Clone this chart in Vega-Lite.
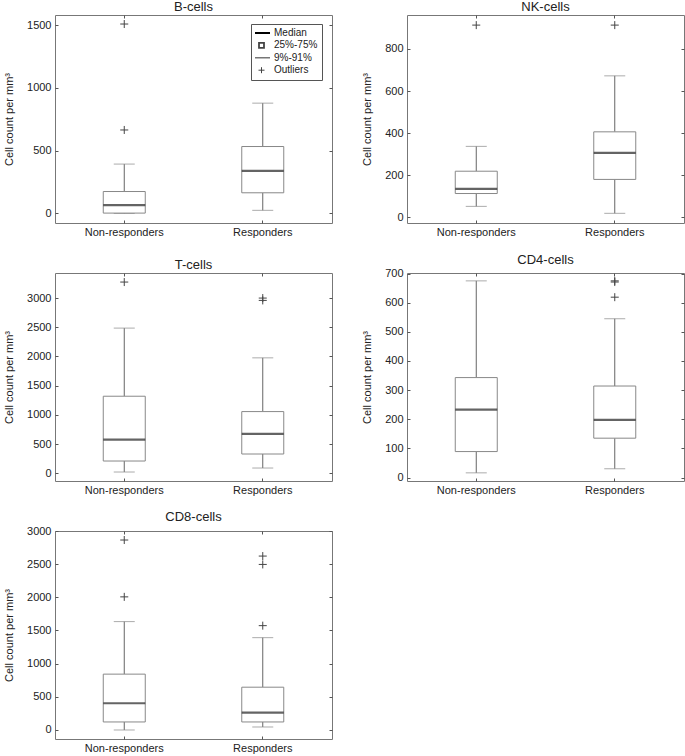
{
  "$schema": "https://vega.github.io/schema/vega-lite/v6.json",
  "padding": {"left": 3, "top": 0, "right": 0, "bottom": 0},
  "bounds": "flush",
  "columns": 2,
  "spacing": {"row": 50, "column": 75},
  "config": {
    "font": "Liberation Sans",
    "view": {"stroke": "#777", "strokeWidth": 1},
    "title": {"fontSize": 13, "fontWeight": "normal", "color": "#222", "offset": 1},
    "axis": {"labelFontSize": 11, "labelColor": "#222", "titleFontSize": 11, "titleFontWeight": "normal", "titleColor": "#222", "tickColor": "#555", "grid": false, "domain": false},
    "axisY": {"format": "d"},
    "legend": {"orient": "none", "legendX": 196, "legendY": 9, "title": null, "strokeColor": "#555", "fillColor": "white", "padding": 4, "symbolSize": 100, "clipHeight": 10, "rowPadding": 2.4, "labelOffset": 6, "labelFontSize": 10, "labelColor": "#222"}
  },
  "datasets": {
    "b_box": [
      {"group": "Non-responders", "lo": 0, "q1": 2, "med": 66, "q3": 174, "hi": 393},
      {"group": "Responders", "lo": 24, "q1": 164, "med": 338, "q3": 533, "hi": 879}
    ],
    "b_out": [
      {"group": "Non-responders", "value": 665, "legend": "Outliers"},
      {"group": "Non-responders", "value": 1510, "legend": "Outliers"}
    ],
    "nk_box": [
      {"group": "Non-responders", "lo": 52, "q1": 113, "med": 135, "q3": 219, "hi": 337},
      {"group": "Responders", "lo": 19, "q1": 180, "med": 306, "q3": 406, "hi": 672}
    ],
    "nk_out": [
      {"group": "Non-responders", "value": 913},
      {"group": "Responders", "value": 913}
    ],
    "t_box": [
      {"group": "Non-responders", "lo": 23, "q1": 211, "med": 577, "q3": 1320, "hi": 2486},
      {"group": "Responders", "lo": 91, "q1": 331, "med": 674, "q3": 1057, "hi": 1977}
    ],
    "t_out": [
      {"group": "Non-responders", "value": 3274},
      {"group": "Responders", "value": 3000},
      {"group": "Responders", "value": 2960}
    ],
    "cd4_box": [
      {"group": "Non-responders", "lo": 16, "q1": 89, "med": 233, "q3": 343, "hi": 675},
      {"group": "Responders", "lo": 30, "q1": 135, "med": 198, "q3": 314, "hi": 545}
    ],
    "cd4_out": [
      {"group": "Responders", "value": 619},
      {"group": "Responders", "value": 671},
      {"group": "Responders", "value": 675}
    ],
    "cd8_box": [
      {"group": "Non-responders", "lo": 0, "q1": 121, "med": 403, "q3": 842, "hi": 1634},
      {"group": "Responders", "lo": 45, "q1": 121, "med": 262, "q3": 645, "hi": 1392}
    ],
    "cd8_out": [
      {"group": "Non-responders", "value": 2007},
      {"group": "Non-responders", "value": 2864},
      {"group": "Responders", "value": 1573},
      {"group": "Responders", "value": 2496},
      {"group": "Responders", "value": 2622}
    ]
  },
  "concat": [
    {
      "title": "B-cells",
      "width": 277, "height": 208,
      "resolve": {"axis": {"x": "independent", "y": "independent"}},
      "layer": [
        {"data": {"name": "b_box"}, "mark": {"type": "rule", "color": "#666"},
         "encoding": {
           "x": {"field": "group", "type": "nominal", "sort": ["Non-responders", "Responders"], "scale": {"type": "band", "paddingInner": 0, "paddingOuter": 0}, "axis": {"orient": "bottom", "title": null, "labelAngle": 0, "tickSize": -3, "labelPadding": 6}},
           "y": {"field": "lo", "type": "quantitative", "scale": {"domain": [-77, 1582], "nice": false, "zero": false}, "axis": {"orient": "left", "title": "Cell count per mm³", "values": [0, 500, 1000, 1500], "tickSize": -3, "labelPadding": 7, "titlePadding": 12}},
           "y2": {"field": "q1"}}},
        {"data": {"name": "b_box"}, "mark": {"type": "rule", "color": "#666"},
         "encoding": {
           "x": {"field": "group", "type": "nominal", "axis": {"orient": "top", "title": null, "labels": false, "tickSize": -3}},
           "y": {"field": "q3", "type": "quantitative", "axis": {"orient": "right", "title": null, "labels": false, "values": [0, 500, 1000, 1500], "tickSize": -3}},
           "y2": {"field": "hi"}}},
        {"data": {"name": "b_box"}, "mark": {"type": "tick", "color": "#888", "size": 21, "thickness": 1},
         "encoding": {"x": {"field": "group", "type": "nominal", "axis": null}, "y": {"field": "lo", "type": "quantitative", "axis": null}}},
        {"data": {"name": "b_box"}, "mark": {"type": "tick", "color": "#888", "size": 21, "thickness": 1},
         "encoding": {"x": {"field": "group", "type": "nominal", "axis": null}, "y": {"field": "hi", "type": "quantitative", "axis": null}}},
        {"data": {"name": "b_box"}, "mark": {"type": "bar", "fill": "white", "stroke": "#888", "strokeWidth": 1, "size": 42},
         "encoding": {"x": {"field": "group", "type": "nominal", "axis": null}, "y": {"field": "q1", "type": "quantitative", "axis": null}, "y2": {"field": "q3"}}},
        {"data": {"name": "b_box"}, "mark": {"type": "tick", "color": "#222", "size": 42, "thickness": 2.2},
         "encoding": {"x": {"field": "group", "type": "nominal", "axis": null}, "y": {"field": "med", "type": "quantitative", "axis": null}}},
        {"data": {"name": "b_out"}, "mark": {"type": "point", "filled": false, "size": 178, "opacity": 1},
         "encoding": {
           "x": {"field": "group", "type": "nominal", "axis": null},
           "y": {"field": "value", "type": "quantitative", "axis": null},
           "shape": {"field": "legend", "type": "nominal", "scale": {"domain": ["Median", "25%-75%", "9%-91%", "Outliers"], "range": ["M-1.7,0H1.7", "M-0.5,-0.5H0.5V0.5H-0.5Z", "M-1.7,0H1.7", "M-0.6,0H0.6M0,-0.6V0.6"]},
             "legend": {"title": null}},
           "stroke": {"field": "legend", "type": "nominal", "scale": {"domain": ["Median", "25%-75%", "9%-91%", "Outliers"], "range": ["#000", "#444", "#777", "#444"]},
             "legend": {"title": null}},
           "strokeWidth": {"field": "legend", "type": "nominal", "scale": {"domain": ["Median", "25%-75%", "9%-91%", "Outliers"], "range": [2.2, 1, 1, 1]},
             "legend": {"title": null}}
         }}
      ]
    },
    {
      "title": "NK-cells",
      "width": 277, "height": 208,
      "resolve": {"axis": {"x": "independent", "y": "independent"}},
      "layer": [
        {"data": {"name": "nk_box"}, "mark": {"type": "rule", "color": "#666"},
         "encoding": {
           "x": {"field": "group", "type": "nominal", "sort": ["Non-responders", "Responders"], "scale": {"type": "band", "paddingInner": 0, "paddingOuter": 0}, "axis": {"orient": "bottom", "title": null, "labelAngle": 0, "tickSize": -3, "labelPadding": 6}},
           "y": {"field": "lo", "type": "quantitative", "scale": {"domain": [-27, 961], "nice": false, "zero": false}, "axis": {"orient": "left", "title": "Cell count per mm³", "values": [0, 200, 400, 600, 800], "tickSize": -3, "labelPadding": 7, "titlePadding": 12}},
           "y2": {"field": "q1"}}},
        {"data": {"name": "nk_box"}, "mark": {"type": "rule", "color": "#666"},
         "encoding": {
           "x": {"field": "group", "type": "nominal", "axis": {"orient": "top", "title": null, "labels": false, "tickSize": -3}},
           "y": {"field": "q3", "type": "quantitative", "axis": {"orient": "right", "title": null, "labels": false, "values": [0, 200, 400, 600, 800], "tickSize": -3}},
           "y2": {"field": "hi"}}},
        {"data": {"name": "nk_box"}, "mark": {"type": "tick", "color": "#888", "size": 21, "thickness": 1},
         "encoding": {"x": {"field": "group", "type": "nominal", "axis": null}, "y": {"field": "lo", "type": "quantitative", "axis": null}}},
        {"data": {"name": "nk_box"}, "mark": {"type": "tick", "color": "#888", "size": 21, "thickness": 1},
         "encoding": {"x": {"field": "group", "type": "nominal", "axis": null}, "y": {"field": "hi", "type": "quantitative", "axis": null}}},
        {"data": {"name": "nk_box"}, "mark": {"type": "bar", "fill": "white", "stroke": "#888", "strokeWidth": 1, "size": 42},
         "encoding": {"x": {"field": "group", "type": "nominal", "axis": null}, "y": {"field": "q1", "type": "quantitative", "axis": null}, "y2": {"field": "q3"}}},
        {"data": {"name": "nk_box"}, "mark": {"type": "tick", "color": "#222", "size": 42, "thickness": 2.2},
         "encoding": {"x": {"field": "group", "type": "nominal", "axis": null}, "y": {"field": "med", "type": "quantitative", "axis": null}}},
        {"data": {"name": "nk_out"}, "mark": {"type": "point", "filled": false, "size": 524, "shape": "M-0.35,0H0.35M0,-0.35V0.35", "stroke": "#444", "strokeWidth": 1, "opacity": 1},
         "encoding": {"x": {"field": "group", "type": "nominal", "axis": null}, "y": {"field": "value", "type": "quantitative", "axis": null}}}
      ]
    },
    {
      "title": "T-cells",
      "width": 277, "height": 208,
      "resolve": {"axis": {"x": "independent", "y": "independent"}},
      "layer": [
        {"data": {"name": "t_box"}, "mark": {"type": "rule", "color": "#666"},
         "encoding": {
           "x": {"field": "group", "type": "nominal", "sort": ["Non-responders", "Responders"], "scale": {"type": "band", "paddingInner": 0, "paddingOuter": 0}, "axis": {"orient": "bottom", "title": null, "labelAngle": 0, "tickSize": -3, "labelPadding": 6}},
           "y": {"field": "lo", "type": "quantitative", "scale": {"domain": [-131, 3429], "nice": false, "zero": false}, "axis": {"orient": "left", "title": "Cell count per mm³", "values": [0, 500, 1000, 1500, 2000, 2500, 3000], "tickSize": -3, "labelPadding": 7, "titlePadding": 12}},
           "y2": {"field": "q1"}}},
        {"data": {"name": "t_box"}, "mark": {"type": "rule", "color": "#666"},
         "encoding": {
           "x": {"field": "group", "type": "nominal", "axis": {"orient": "top", "title": null, "labels": false, "tickSize": -3}},
           "y": {"field": "q3", "type": "quantitative", "axis": {"orient": "right", "title": null, "labels": false, "values": [0, 500, 1000, 1500, 2000, 2500, 3000], "tickSize": -3}},
           "y2": {"field": "hi"}}},
        {"data": {"name": "t_box"}, "mark": {"type": "tick", "color": "#888", "size": 21, "thickness": 1},
         "encoding": {"x": {"field": "group", "type": "nominal", "axis": null}, "y": {"field": "lo", "type": "quantitative", "axis": null}}},
        {"data": {"name": "t_box"}, "mark": {"type": "tick", "color": "#888", "size": 21, "thickness": 1},
         "encoding": {"x": {"field": "group", "type": "nominal", "axis": null}, "y": {"field": "hi", "type": "quantitative", "axis": null}}},
        {"data": {"name": "t_box"}, "mark": {"type": "bar", "fill": "white", "stroke": "#888", "strokeWidth": 1, "size": 42},
         "encoding": {"x": {"field": "group", "type": "nominal", "axis": null}, "y": {"field": "q1", "type": "quantitative", "axis": null}, "y2": {"field": "q3"}}},
        {"data": {"name": "t_box"}, "mark": {"type": "tick", "color": "#222", "size": 42, "thickness": 2.2},
         "encoding": {"x": {"field": "group", "type": "nominal", "axis": null}, "y": {"field": "med", "type": "quantitative", "axis": null}}},
        {"data": {"name": "t_out"}, "mark": {"type": "point", "filled": false, "size": 524, "shape": "M-0.35,0H0.35M0,-0.35V0.35", "stroke": "#444", "strokeWidth": 1, "opacity": 1},
         "encoding": {"x": {"field": "group", "type": "nominal", "axis": null}, "y": {"field": "value", "type": "quantitative", "axis": null}}}
      ]
    },
    {
      "title": "CD4-cells",
      "width": 277, "height": 208,
      "resolve": {"axis": {"x": "independent", "y": "independent"}},
      "layer": [
        {"data": {"name": "cd4_box"}, "mark": {"type": "rule", "color": "#666"},
         "encoding": {
           "x": {"field": "group", "type": "nominal", "sort": ["Non-responders", "Responders"], "scale": {"type": "band", "paddingInner": 0, "paddingOuter": 0}, "axis": {"orient": "bottom", "title": null, "labelAngle": 0, "tickSize": -3, "labelPadding": 6}},
           "y": {"field": "lo", "type": "quantitative", "scale": {"domain": [-12, 702], "nice": false, "zero": false}, "axis": {"orient": "left", "title": "Cell count per mm³", "values": [0, 100, 200, 300, 400, 500, 600, 700], "tickSize": -3, "labelPadding": 7, "titlePadding": 12}},
           "y2": {"field": "q1"}}},
        {"data": {"name": "cd4_box"}, "mark": {"type": "rule", "color": "#666"},
         "encoding": {
           "x": {"field": "group", "type": "nominal", "axis": {"orient": "top", "title": null, "labels": false, "tickSize": -3}},
           "y": {"field": "q3", "type": "quantitative", "axis": {"orient": "right", "title": null, "labels": false, "values": [0, 100, 200, 300, 400, 500, 600, 700], "tickSize": -3}},
           "y2": {"field": "hi"}}},
        {"data": {"name": "cd4_box"}, "mark": {"type": "tick", "color": "#888", "size": 21, "thickness": 1},
         "encoding": {"x": {"field": "group", "type": "nominal", "axis": null}, "y": {"field": "lo", "type": "quantitative", "axis": null}}},
        {"data": {"name": "cd4_box"}, "mark": {"type": "tick", "color": "#888", "size": 21, "thickness": 1},
         "encoding": {"x": {"field": "group", "type": "nominal", "axis": null}, "y": {"field": "hi", "type": "quantitative", "axis": null}}},
        {"data": {"name": "cd4_box"}, "mark": {"type": "bar", "fill": "white", "stroke": "#888", "strokeWidth": 1, "size": 42},
         "encoding": {"x": {"field": "group", "type": "nominal", "axis": null}, "y": {"field": "q1", "type": "quantitative", "axis": null}, "y2": {"field": "q3"}}},
        {"data": {"name": "cd4_box"}, "mark": {"type": "tick", "color": "#222", "size": 42, "thickness": 2.2},
         "encoding": {"x": {"field": "group", "type": "nominal", "axis": null}, "y": {"field": "med", "type": "quantitative", "axis": null}}},
        {"data": {"name": "cd4_out"}, "mark": {"type": "point", "filled": false, "size": 524, "shape": "M-0.35,0H0.35M0,-0.35V0.35", "stroke": "#444", "strokeWidth": 1, "opacity": 1},
         "encoding": {"x": {"field": "group", "type": "nominal", "axis": null}, "y": {"field": "value", "type": "quantitative", "axis": null}}}
      ]
    },
    {
      "title": "CD8-cells",
      "width": 277, "height": 208,
      "resolve": {"axis": {"x": "independent", "y": "independent"}},
      "layer": [
        {"data": {"name": "cd8_box"}, "mark": {"type": "rule", "color": "#666"},
         "encoding": {
           "x": {"field": "group", "type": "nominal", "sort": ["Non-responders", "Responders"], "scale": {"type": "band", "paddingInner": 0, "paddingOuter": 0}, "axis": {"orient": "bottom", "title": null, "labelAngle": 0, "tickSize": -3, "labelPadding": 6}},
           "y": {"field": "lo", "type": "quantitative", "scale": {"domain": [-136, 3000], "nice": false, "zero": false}, "axis": {"orient": "left", "title": "Cell count per mm³", "values": [0, 500, 1000, 1500, 2000, 2500, 3000], "tickSize": -3, "labelPadding": 7, "titlePadding": 12}},
           "y2": {"field": "q1"}}},
        {"data": {"name": "cd8_box"}, "mark": {"type": "rule", "color": "#666"},
         "encoding": {
           "x": {"field": "group", "type": "nominal", "axis": {"orient": "top", "title": null, "labels": false, "tickSize": -3}},
           "y": {"field": "q3", "type": "quantitative", "axis": {"orient": "right", "title": null, "labels": false, "values": [0, 500, 1000, 1500, 2000, 2500, 3000], "tickSize": -3}},
           "y2": {"field": "hi"}}},
        {"data": {"name": "cd8_box"}, "mark": {"type": "tick", "color": "#888", "size": 21, "thickness": 1},
         "encoding": {"x": {"field": "group", "type": "nominal", "axis": null}, "y": {"field": "lo", "type": "quantitative", "axis": null}}},
        {"data": {"name": "cd8_box"}, "mark": {"type": "tick", "color": "#888", "size": 21, "thickness": 1},
         "encoding": {"x": {"field": "group", "type": "nominal", "axis": null}, "y": {"field": "hi", "type": "quantitative", "axis": null}}},
        {"data": {"name": "cd8_box"}, "mark": {"type": "bar", "fill": "white", "stroke": "#888", "strokeWidth": 1, "size": 42},
         "encoding": {"x": {"field": "group", "type": "nominal", "axis": null}, "y": {"field": "q1", "type": "quantitative", "axis": null}, "y2": {"field": "q3"}}},
        {"data": {"name": "cd8_box"}, "mark": {"type": "tick", "color": "#222", "size": 42, "thickness": 2.2},
         "encoding": {"x": {"field": "group", "type": "nominal", "axis": null}, "y": {"field": "med", "type": "quantitative", "axis": null}}},
        {"data": {"name": "cd8_out"}, "mark": {"type": "point", "filled": false, "size": 524, "shape": "M-0.35,0H0.35M0,-0.35V0.35", "stroke": "#444", "strokeWidth": 1, "opacity": 1},
         "encoding": {"x": {"field": "group", "type": "nominal", "axis": null}, "y": {"field": "value", "type": "quantitative", "axis": null}}}
      ]
    }
  ]
}
